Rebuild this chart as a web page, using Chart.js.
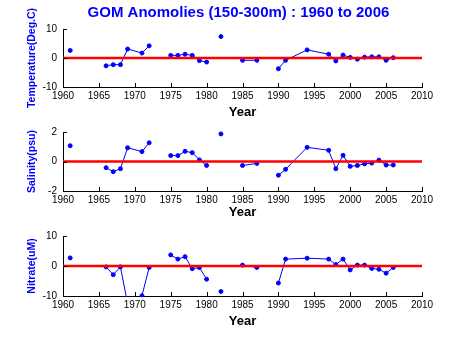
<!DOCTYPE html>
<html>
<head>
  <meta charset="utf-8">
  <title>GOM Anomolies</title>
  <script src="https://cdn.jsdelivr.net/npm/chart.js"></script>
  <style>
    body { margin: 0; background: #fff; }
    #wrap { position: relative; width: 466px; height: 349px; }
    canvas { position: absolute; left: 0; }
  </style>
</head>
<body>
  <div id="wrap">
    <canvas id="tempChart" width="466" height="120" style="top:0"></canvas>
    <canvas id="salChart" width="466" height="100" style="top:120px"></canvas>
    <canvas id="nitChart" width="466" height="129" style="top:220px"></canvas>
  </div>

  <script>
    // null = break in the line
    const years = [1961, 1962, 1966, 1967, 1968, 1969, 1971, 1972, 1973, 1975, 1976, 1977, 1978, 1979, 1980, 1981,
                   1982, 1983, 1985, 1987, 1988, 1990, 1991, 1994, 1997, 1998, 1999, 2000, 2001, 2002, 2003, 2004, 2005, 2006];
    const tempValues = [2.6, null, -2.7, -2.3, -2.3, 3.1, 1.7, 4.2, null, 0.9, 0.9, 1.3, 0.9, -0.9, -1.4, null,
                        7.4, null, -0.8, -0.8, null, -3.7, -0.8, 2.8, 1.3, -1.0, 1.0, 0.2, -0.4, 0.3, 0.4, 0.4, -0.8, 0.1];
    const salValues = [1.07, null, -0.42, -0.69, -0.49, 0.93, 0.67, 1.27, null, 0.40, 0.40, 0.69, 0.60, 0.11, -0.27, null,
                       1.87, null, -0.27, -0.13, null, -0.93, -0.53, 0.96, 0.76, -0.49, 0.42, -0.33, -0.27, -0.16, -0.11, 0.09, -0.24, -0.24];
    const nitValues = [2.7, null, -0.3, -2.9, -0.3, -12.6, -9.9, -0.5, null, 3.7, 2.3, 3.1, -0.9, -0.5, -4.4, null,
                       -8.5, null, 0.3, -0.5, null, -5.7, 2.3, 2.6, 2.3, 0.5, 2.3, -1.3, 0.3, 0.3, -0.8, -1.1, -2.4, -0.5];
    const zeroYears = [1960, 2010];
    const zeroValues = [0, 0];
    const xTicks = [1960, 1965, 1970, 1975, 1980, 1985, 1990, 1995, 2000, 2005, 2010];

    const FONT = '"Liberation Sans", Arial, sans-serif';
    const BLUE = '#0000ff';

    // MATLAB style ticks pointing into the plot
    const inwardTicks = {
      id: 'inwardTicks',
      afterDraw(chart) {
        const {ctx, chartArea: a, scales: {x, y}} = chart;
        ctx.save();
        ctx.strokeStyle = '#000';
        ctx.lineWidth = 1;
        ctx.beginPath();
        x.ticks.forEach(t => {
          const px = Math.round(x.getPixelForValue(t.value)) + 0.5;
          ctx.moveTo(px, a.bottom);
          ctx.lineTo(px, a.bottom - 4);
        });
        y.ticks.forEach(t => {
          const py = Math.round(y.getPixelForValue(t.value)) + 0.5;
          ctx.moveTo(a.left, py);
          ctx.lineTo(a.left + 4, py);
        });
        ctx.stroke();
        ctx.restore();
      }
    };

    const mainTitle = {
      id: 'mainTitle',
      afterDraw(chart, args, opts) {
        if (!opts.text) return;
        const ctx = chart.ctx;
        ctx.save();
        ctx.font = 'bold 15px ' + FONT;
        ctx.fillStyle = BLUE;
        ctx.textAlign = 'center';
        ctx.textBaseline = 'middle';
        ctx.fillText(opts.text, 238.5, 13);
        ctx.restore();
      }
    };

    function makePanel(id, values, yMin, yMax, yStep, yLabel, pad, xHeight, title) {
      return new Chart(document.getElementById(id), {
        type: 'line',
        data: {
          datasets: [
            {
              data: zeroYears.map((yr, i) => ({x: yr, y: zeroValues[i]})),
              borderColor: '#ff0000',
              borderWidth: 2.5,
              pointRadius: 0
            },
            {
              data: years.map((yr, i) => ({x: yr, y: values[i]})),
              borderColor: BLUE,
              backgroundColor: BLUE,
              borderWidth: 1,
              pointRadius: 2,
              pointBorderWidth: 1,
              pointBackgroundColor: BLUE,
              tension: 0,
              clip: {left: 4, right: 4, top: 4, bottom: 1}
            }
          ]
        },
        options: {
          responsive: false,
          animation: false,
          layout: { padding: { top: pad.top, right: 44, left: 0, bottom: pad.bottom } },
          plugins: {
            legend: { display: false },
            tooltip: { enabled: false },
            mainTitle: { text: title }
          },
          scales: {
            x: {
              type: 'linear',
              min: 1960, max: 2010,
              afterBuildTicks: s => { s.ticks = xTicks.map(v => ({value: v})); },
              afterFit: s => { s.height = xHeight; },
              grid: { display: false, drawTicks: false },
              border: { display: true, color: '#000', width: 1 },
              ticks: {
                autoSkip: false, maxRotation: 0, padding: 3,
                callback: v => String(v),
                color: '#000', font: { family: FONT, size: 10 }
              },
              title: {
                display: true, text: 'Year', color: '#000',
                font: { family: FONT, size: 13, weight: 'bold' },
                padding: { top: 0, bottom: 0 }
              }
            },
            y: {
              min: yMin, max: yMax,
              afterFit: s => { s.width = 63; },
              grid: { display: false, drawTicks: false },
              border: { display: true, color: '#000', width: 1 },
              ticks: {
                stepSize: yStep, padding: 6,
                callback: v => String(v),
                color: '#000', font: { family: FONT, size: 10 }
              },
              title: {
                display: true, text: yLabel, color: BLUE,
                font: { family: FONT, size: 10.5, weight: 'bold' },
                padding: { top: 26, bottom: 0 }
              }
            }
          }
        },
        plugins: [inwardTicks, mainTitle]
      });
    }

    makePanel('tempChart', tempValues, -10, 10, 10, 'Temperature(Deg.C)', {top: 29, bottom: 0}, 33,
              'GOM Anomolies (150-300m) : 1960 to 2006');
    makePanel('salChart', salValues, -2, 2, 2, 'Salinity(psu)', {top: 11, bottom: 0}, 29, '');
    makePanel('nitChart', nitValues, -10, 10, 10, 'Nitrate(uM)', {top: 16, bottom: 20}, 33, '');
  </script>
</body>
</html>
